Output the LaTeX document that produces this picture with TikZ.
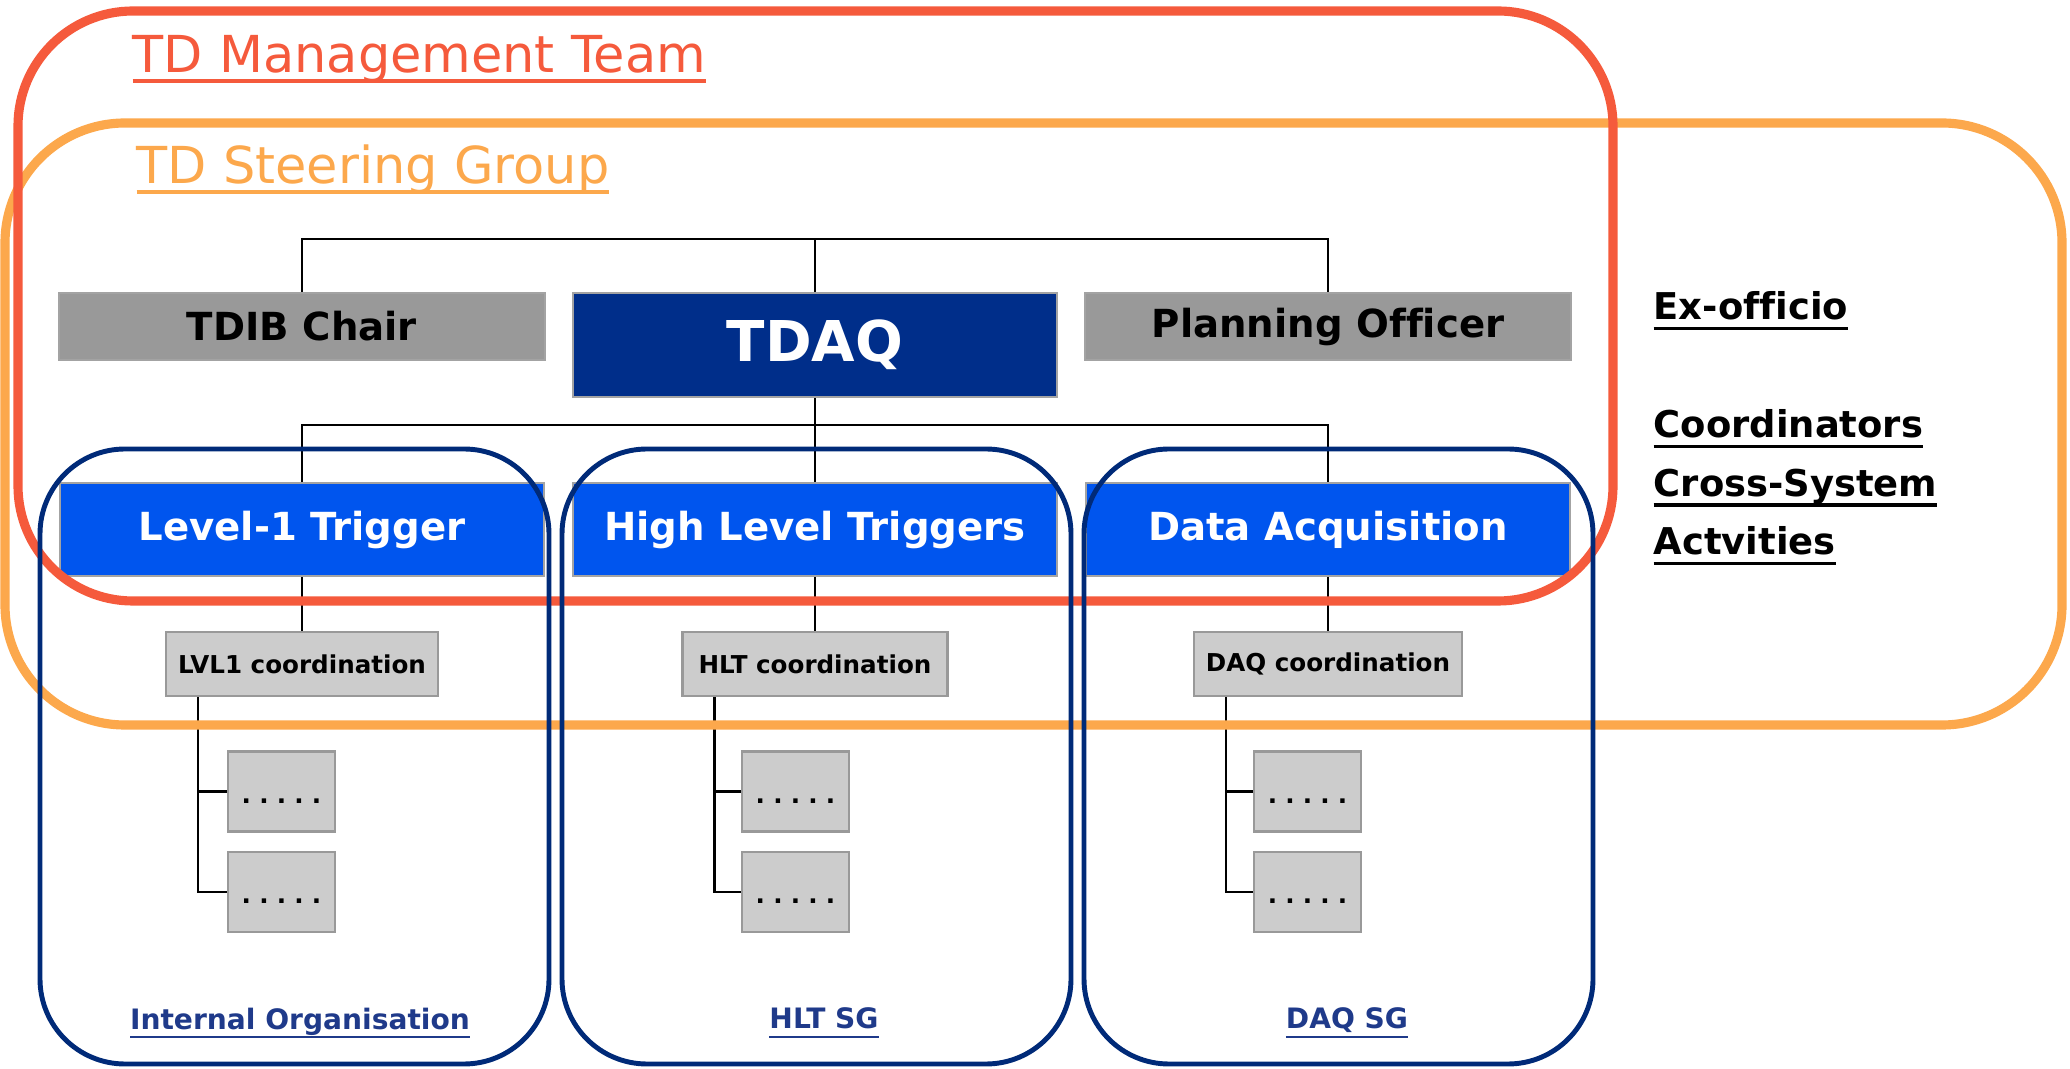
\documentclass[tikz,border=0pt]{standalone}
\usepackage{fontspec}
\setmainfont[Ligatures=NoCommon]{DejaVu Sans}
\usetikzlibrary{positioning}
\newcommand{\ulbar}[2][1pt]{\vtop{\hbox{\raisebox{0pt}[\height][0pt]{#2}}\kern2pt\hrule height #1}}
\newcommand{\subdots}{\raisebox{-1.2mm}[0pt][0pt]{.\,\,.\,\,.\,\,.\,\,.}}
\definecolor{mgmtred}{HTML}{F55A3C}
\definecolor{steerorange}{HTML}{FCA84C}
\definecolor{sgnavy}{HTML}{002A78}
\definecolor{sgtextblue}{HTML}{1F3A8A}
\definecolor{tdaqblue}{HTML}{002E8A}
\definecolor{sysblue}{HTML}{0055EE}
\definecolor{headgray}{HTML}{999999}
\definecolor{coordgray}{HTML}{CCCCCC}
\definecolor{bordergray}{HTML}{A3A3A3}
\tikzset{
    headnode/.style = {rectangle, line width=0.6pt, draw=bordergray, fill=headgray, minimum width=4.86cm, minimum height=0.67cm, font=\bfseries\fontsize{11}{13}\selectfont, text=black},
    tdaqnode/.style = {rectangle, line width=0.6pt, draw=bordergray, fill=tdaqblue, minimum width=4.84cm, minimum height=1.04cm, font=\bfseries\fontsize{16}{19}\selectfont, text=white},
    sysnode/.style = {rectangle, line width=0.6pt, draw=bordergray, fill=sysblue, minimum width=4.84cm, minimum height=0.93cm, font=\bfseries\fontsize{11}{13}\selectfont, text=white},
    coordnode/.style = {rectangle, line width=0.6pt, draw=headgray, fill=coordgray, minimum width=2.65cm, minimum height=0.64cm, font=\bfseries\fontsize{7}{9}\selectfont, text=black},
    subnode/.style = {rectangle, line width=0.6pt, draw=headgray, fill=coordgray, minimum width=1.07cm, minimum height=0.80cm, font=\bfseries\fontsize{7}{9}\selectfont, text=black},
    mgmtbox/.style = {rectangle, rounded corners=1.15cm, line width=2.6pt, draw=mgmtred},
    steerbox/.style = {rectangle, rounded corners=1.2cm, line width=2.6pt, draw=steerorange},
    sgbox/.style = {rectangle, rounded corners=0.85cm, line width=1.4pt, draw=sgnavy, minimum width=5.09cm, minimum height=6.15cm},
    mgmttext/.style = {inner sep=0pt, anchor=west, text=mgmtred, font=\fontsize{14.5}{17}\selectfont},
    steertext/.style = {inner sep=0pt, anchor=west, text=steerorange, font=\fontsize{14.5}{17}\selectfont},
    sidetext/.style = {inner sep=0pt, anchor=west, text=black, font=\bfseries\fontsize{10.5}{12}\selectfont},
    sgtext/.style = {inner sep=0pt, text=sgtextblue, font=\bfseries\fontsize{8}{10}\selectfont},
    edgen/.style = {-, line width=0.6pt, black}
}

\begin{document}
\begin{tikzpicture}
%
\node[headnode] at (3.02,7.415) (tdib) {TDIB Chair};
\node[tdaqnode] at (8.15,7.23) (tdaq) {TDAQ};
\node[headnode] at (13.28,7.415) (plan) {Planning Officer};
%
\node[sysnode] at (3.02,5.385) (lvl) {Level-1 Trigger};
\node[sysnode] at (8.15,5.385) (hlt) {High Level Triggers};
\node[sysnode] at (13.28,5.385) (daq) {Data Acquisition};
%
\node[coordnode] at (3.02,4.04) (lvlc) {LVL1 coordination};
\node[coordnode] at (8.15,4.04) (hltc) {HLT coordination};
\node[coordnode] at (13.28,4.04) (daqc) {DAQ coordination};
%
\node[subnode] at (2.815,2.765) (lvla) {\subdots};
\node[subnode] at (2.815,1.76) (lvlb) {\subdots};
\node[subnode] at (7.955,2.765) (hlta) {\subdots};
\node[subnode] at (7.955,1.76) (hltb) {\subdots};
\node[subnode] at (13.075,2.765) (daqa) {\subdots};
\node[subnode] at (13.075,1.76) (daqb) {\subdots};
%
\coordinate (ttop) at (8.15,8.29);
\coordinate (tbot) at (8.15,6.43);
\draw[edgen] (tdib.north) |- (ttop) -| (plan.north);
\draw[edgen] (ttop) -- (tdaq.north);
\draw[edgen] (tdaq.south) -- (tbot);
\draw[edgen] (lvl.north) |- (tbot) -| (daq.north);
\draw[edgen] (tbot) -- (hlt.north);
\draw[edgen] (lvl.south) -- (lvlc.north);
\draw[edgen] (hlt.south) -- (hltc.north);
\draw[edgen] (daq.south) -- (daqc.north);
\draw[edgen] ([xshift=3.3mm]lvlc.south west) |- (lvla.west);
\draw[edgen] ([xshift=3.3mm]lvlc.south west) |- (lvlb.west);
\draw[edgen] ([xshift=3.3mm]hltc.south west) |- (hlta.west);
\draw[edgen] ([xshift=3.3mm]hltc.south west) |- (hltb.west);
\draw[edgen] ([xshift=3.3mm]daqc.south west) |- (daqa.west);
\draw[edgen] ([xshift=3.3mm]daqc.south west) |- (daqb.west);
%
\node[steerbox, minimum width=20.57cm, minimum height=6.02cm] at (10.335,6.44) (steer) {};
\node[mgmtbox, minimum width=15.95cm, minimum height=5.90cm] at (8.155,7.62) (mgmt) {};
\node[sgbox] at (2.945,3.115) (lvlsg) {};
\node[sgbox] at (8.165,3.115) (hltsg) {};
\node[sgbox] at (13.385,3.115) (daqsg) {};
%
\node[mgmttext] at (1.32,10.09) (mgmtt) {\ulbar{TD Management Team}};
\node[steertext] at (1.36,8.99) (steert) {\ulbar{TD Steering Group}};
%
\node[sidetext] at (16.53,7.57) (exo) {\ulbar{Ex-officio}};
\node[sidetext] at (16.53,6.39) (coo) {\ulbar{Coordinators}};
\node[sidetext] at (16.53,5.80) (crs) {\ulbar{Cross-System}};
\node[sidetext] at (16.53,5.22) (act) {\ulbar{Actvities}};
%
\node[sgtext] at (3.0,0.45) (lvlsgt) {\ulbar[0.6pt]{Internal Organisation}};
\node[sgtext] at (8.24,0.45) (hltsgt) {\ulbar[0.6pt]{HLT SG}};
\node[sgtext] at (13.47,0.45) (daqsgt) {\ulbar[0.6pt]{DAQ SG}};

\path[use as bounding box] (0,0) rectangle (20.70,10.68);

\end{tikzpicture}
\end{document}
